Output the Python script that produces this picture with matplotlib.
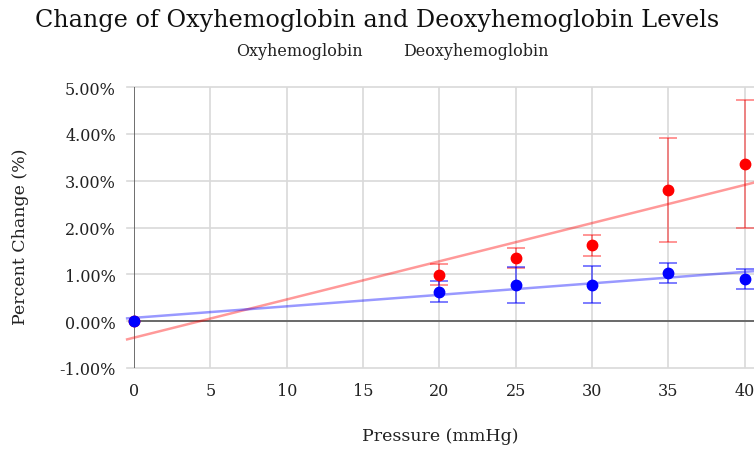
import numpy as np
import matplotlib
matplotlib.use("Agg")
import matplotlib.pyplot as plt
from matplotlib.ticker import FuncFormatter

plt.rcParams['font.family'] = ['DejaVu Serif']

# Pressure levels (mmHg) and mean percent change with error margins
pressure = [0, 20, 25, 30, 35, 40]
oxy = [0.00, 0.99, 1.35, 1.62, 2.80, 3.36]
oxy_err = [0.00, 0.22, 0.21, 0.23, 1.12, 1.36]
deoxy = [0.00, 0.63, 0.77, 0.78, 1.03, 0.90]
deoxy_err = [0.00, 0.22, 0.39, 0.39, 0.22, 0.22]

x_ticks = [0, 5, 10, 15, 20, 25, 30, 35, 40]
y_ticks = [-1, 0, 1, 2, 3, 4, 5]

W, H = 754, 452
fig = plt.figure(figsize=(W / 100, H / 100), dpi=100)
ax = fig.add_axes([134 / W, (H - 369) / H, (W - 134) / W, (369 - 88) / H])

xmax = 40.6
ax.set_xlim(0, xmax)
ax.set_ylim(-1, 5)

# grid
for t in x_ticks[1:]:
    ax.axvline(t, color='#d9d9d9', lw=1.2, zorder=0)
for t in y_ticks:
    ax.plot([-0.45, xmax], [t, t], color='#d9d9d9', lw=1.2, zorder=0, clip_on=False)
ax.axhline(0, color='#555555', lw=1.2, zorder=1)
ax.axvline(0, color='#555555', lw=1.2, zorder=1)

for s in ax.spines.values():
    s.set_visible(False)
ax.tick_params(length=0, labelsize=11.5, colors='#222222')
ax.tick_params(axis='y', pad=13)
ax.tick_params(axis='x', pad=10)
ax.set_xticks(x_ticks)
ax.set_yticks(y_ticks)
ax.yaxis.set_major_formatter(FuncFormatter(lambda v, p: f"{v:.2f}%"))

# linear trend lines
xl = np.array([-0.45, xmax])
for y, c in [(oxy, '#ff0000'), (deoxy, '#0000ff')]:
    k, b = np.polyfit(pressure, y, 1)
    ax.plot(xl, k * xl + b, color=c, alpha=0.4, lw=1.8, zorder=2, clip_on=False)

# points with error bars
ax.errorbar(pressure[1:], oxy[1:], yerr=oxy_err[1:], fmt='none', ecolor='#ff0000',
            alpha=0.45, elinewidth=1.3, capsize=6.5, capthick=1.3, zorder=3)
ax.errorbar(pressure[1:], deoxy[1:], yerr=deoxy_err[1:], fmt='none', ecolor='#0000ff',
            alpha=0.55, elinewidth=1.3, capsize=6.5, capthick=1.3, zorder=3)
ax.plot(pressure, oxy, 'o', color='#ff0000', ms=7.5, zorder=4, clip_on=False)
ax.plot(pressure, deoxy, 'o', color='#0000ff', ms=7.5, zorder=5, clip_on=False)

# titles and labels
fig.text(377 / W, 1 - 20 / H, 'Change of Oxyhemoglobin and Deoxyhemoglobin Levels',
         ha='center', va='center', fontsize=17.2, color='#111111')
fig.text(299 / W, 1 - 52 / H, 'Oxyhemoglobin', ha='center', va='center',
         fontsize=11.5, color='#222222')
fig.text(476 / W, 1 - 52 / H, 'Deoxyhemoglobin', ha='center', va='center',
         fontsize=11.5, color='#222222')
fig.text(440 / W, 1 - 437 / H, 'Pressure (mmHg)', ha='center', va='center',
         fontsize=12.5, color='#222222')
fig.text(21 / W, 1 - 237 / H, 'Percent Change (%)', ha='center', va='center',
         rotation=90, fontsize=12.5, color='#222222')

fig.savefig('out.png', dpi=100)
